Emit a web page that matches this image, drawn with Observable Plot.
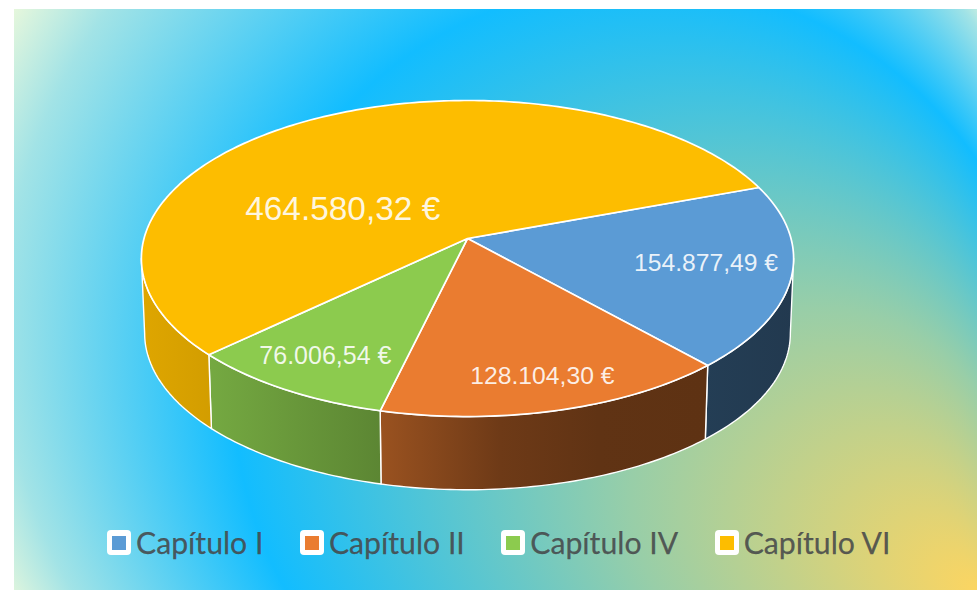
<!DOCTYPE html>
<html lang="es">
<head>
<meta charset="utf-8">
<script src="https://cdn.jsdelivr.net/npm/d3@7"></script>
<script src="https://cdn.jsdelivr.net/npm/@observablehq/plot@0.6"></script>
<style>
html,body{margin:0;padding:0;background:#fff;width:977px;height:590px;overflow:hidden}
#bg{position:absolute;left:0;top:0}
#chart{position:relative;width:977px;height:510px}
#legend{position:relative;display:flex;align-items:center;padding:20px 0 0 107px;font-family:Lato,"Open Sans",sans-serif;font-size:30.2px;color:rgba(70,72,74,.88);line-height:25px;-webkit-text-stroke:.25px currentColor}
.item{display:flex;align-items:center;margin-right:36.5px;white-space:nowrap}
.sw{width:24px;height:25px;border-radius:4px;background:#fff;display:flex;align-items:center;justify-content:center;margin-right:5px;flex:none}
.sw i{display:block;width:14px;height:14px}
</style>
</head>
<body>
<svg id="bg" width="977" height="590" xmlns="http://www.w3.org/2000/svg">
  <defs>
    <radialGradient id="bgGrad" gradientUnits="userSpaceOnUse" cx="503" cy="308" r="573.5" fx="977" fy="590">
      <stop offset="0" stop-color="#fbd562"/>
      <stop offset="0.33" stop-color="#98cea8"/>
      <stop offset="0.71" stop-color="#12bdff"/>
      <stop offset="0.93" stop-color="#a2e3e6"/>
      <stop offset="1" stop-color="#e6f7dc"/>
    </radialGradient>
  </defs>
  <rect x="14" y="9" width="963" height="581" fill="url(#bgGrad)"/>
</svg>
<div id="chart"></div>
<div id="legend"></div>
<script>
const categories = ["Capítulo I", "Capítulo II", "Capítulo IV", "Capítulo VI"];
const values = [154877.49, 128104.30, 76006.54, 464580.32];
const valueLabels = ["154.877,49 €", "128.104,30 €", "76.006,54 €", "464.580,32 €"];
const colors = ["#5b9bd5", "#ea7c30", "#8ccb4e", "#fdbd00"];

// view of the tilted disc
const W = 977, H = 510;
const cx = 467, cy = 238, fx = 323.5, fy = 155.5;
const persp = 0.1266, depthScale = 0.99, depth = 75 / fy;
const rad = Math.PI / 180;
const rotation = 70 * rad;

const arcs = d3.pie().sort(null).value(d => d)
  .startAngle(rotation).endAngle(rotation + 2 * Math.PI)(values);

function project(a, r = 1, bottom = false) {
  const X = r * Math.sin(a), Y = -r * Math.cos(a), w = 1 - persp * Y;
  const s = bottom ? depthScale : 1;
  return {x: s * X / w, y: s * Y / w + (bottom ? depth : 0)};
}
function arcPts(a0, a1, bottom = false) {
  const n = Math.max(2, Math.ceil(Math.abs(a1 - a0) / rad));
  return d3.range(n + 1).map(i => project(a0 + (a1 - a0) * i / n, 1, bottom));
}

// side wall shading, darkening from left to right
const shade = [[0, .88], [.113, .83], [.367, .66], [.55, .47], [.7, .41], [.86, .40], [1, .37]];
const svgNS = "http://www.w3.org/2000/svg";
const bgDefs = document.querySelector("#bg defs");
colors.forEach((c, i) => {
  const g = document.createElementNS(svgNS, "linearGradient");
  g.setAttribute("id", "side" + i);
  g.setAttribute("gradientUnits", "userSpaceOnUse");
  g.setAttribute("x1", 139); g.setAttribute("x2", 795);
  g.setAttribute("y1", 0); g.setAttribute("y2", 0);
  const base = d3.rgb(c);
  shade.forEach(([o, f]) => {
    const s = document.createElementNS(svgNS, "stop");
    s.setAttribute("offset", o);
    s.setAttribute("stop-color", d3.rgb(base.r * f, base.g * f, base.b * f).formatHex());
    g.appendChild(s);
  });
  bgDefs.appendChild(g);
});

// only the front of the wall is visible, between the two silhouette points
const frontStart = Math.PI / 2 + Math.asin(persp);
const frontEnd = 3 * Math.PI / 2 - Math.asin(persp);
const sideMarks = [];
arcs.forEach((d, i) => {
  for (const turn of [0, 2 * Math.PI]) {
    const a0 = Math.max(d.startAngle - turn, frontStart);
    const a1 = Math.min(d.endAngle - turn, frontEnd);
    if (a1 > a0) {
      const pts = [...arcPts(a0, a1), ...arcPts(a1, a0, true)];
      sideMarks.push(Plot.line(pts, {x: "x", y: "y", curve: "linear-closed",
        fill: `url(#side${i})`, stroke: "#fff", strokeWidth: 1.4, strokeLinejoin: "round"}));
    }
  }
});

const topMarks = arcs.map((d, i) => Plot.line(
  [{x: 0, y: 0}, ...arcPts(d.startAngle, d.endAngle)],
  {x: "x", y: "y", curve: "linear-closed", fill: colors[i], stroke: "#fff", strokeWidth: 1.7, strokeLinejoin: "round"}));

// label placement along each slice's bisector, with the nudges seen in the picture
const labelSpots = [
  {r: .8, dx: -19, dy: -6, size: 24.7},
  {r: .8, dx: 4, dy: 4, size: 24.7},
  {r: .8, dx: 1, dy: 0, size: 25},
  {r: .65, dx: -22, dy: 51, size: 33.4}
];
const labelMarks = arcs.map((d, i) => {
  const p = project((d.startAngle + d.endAngle) / 2, labelSpots[i].r);
  return Plot.text([{...p, t: valueLabels[i]}], {x: "x", y: "y", text: "t",
    dx: labelSpots[i].dx, dy: labelSpots[i].dy, fill: "#fff", fillOpacity: .88,
    fontSize: labelSpots[i].size, fontFamily: "Liberation Sans, Arial, sans-serif", textAnchor: "middle"});
});

const chart = Plot.plot({
  width: W, height: H, margin: 0,
  style: {background: "transparent", overflow: "visible"},
  x: {domain: [-cx / fx, (W - cx) / fx], range: [0, W], axis: null},
  y: {domain: [-cy / fy, (H - cy) / fy], range: [0, H], axis: null},
  marks: [...sideMarks, ...topMarks, ...labelMarks]
});
document.getElementById("chart").appendChild(chart);

const legend = document.getElementById("legend");
categories.forEach((c, i) => {
  const item = document.createElement("div");
  item.className = "item";
  item.innerHTML = `<span class="sw"><i style="background:${colors[i]}"></i></span><span>${c}</span>`;
  legend.appendChild(item);
});
</script>
</body>
</html>
